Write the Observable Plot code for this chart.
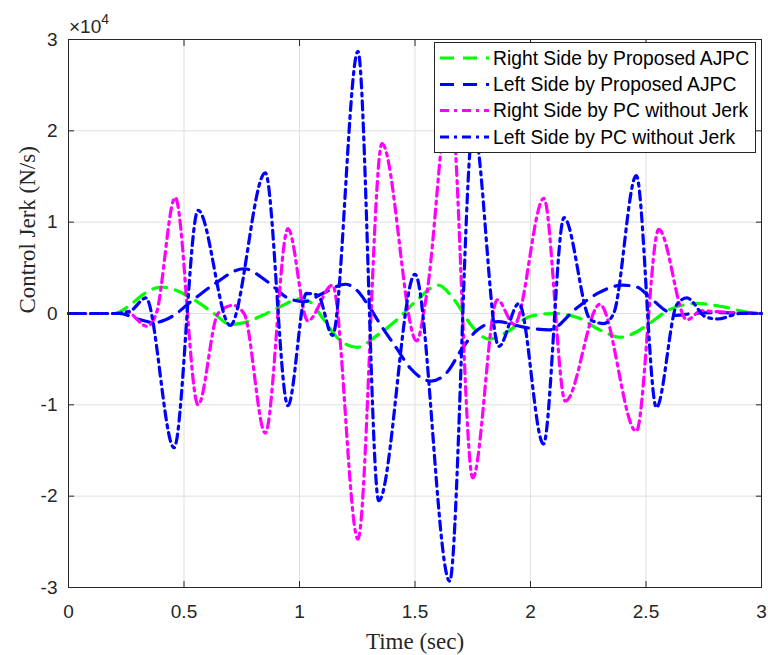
<!DOCTYPE html>
<html><head><meta charset="utf-8">
<script src="https://cdn.jsdelivr.net/npm/d3@7"></script>
<script src="https://cdn.jsdelivr.net/npm/@observablehq/plot@0.6"></script>
<style>body{margin:0;background:#fff} #chart{width:768px;height:655px}</style>
</head><body><div id="chart"></div>
<script>
// Series names (legend order)
const seriesNames = ["Right Side by Proposed AJPC", "Left Side by Proposed AJPC", "Right Side by PC without Jerk", "Left Side by PC without Jerk"];

// Right Side by Proposed AJPC (N/s)
const rightAJPC_t = [0, 0.2, 0.27, 0.33, 0.40, 0.47, 0.55, 0.63, 0.70, 0.76, 0.84, 0.92, 1.0, 1.05, 1.1, 1.17, 1.25, 1.33, 1.43, 1.51, 1.60, 1.67, 1.75, 1.82, 1.9, 2.0, 2.1, 2.2, 2.3, 2.39, 2.46, 2.52, 2.6, 2.72, 2.84, 2.95, 3.0];
const rightAJPC_v = [0, 0, 1000, 2200, 2900, 2500, 1400, 0, -1200, -1000, -200, 800, 1600, 1200, -500, -2800, -3700, -2500, -500, 1500, 3100, 1500, -1500, -2800, -2000, -300, 0, -400, -1800, -2600, -2000, -1000, 400, 1100, 700, 100, 0];

// Left Side by Proposed AJPC (N/s)
const leftAJPC_t = [0, 0.22, 0.3, 0.37, 0.45, 0.53, 0.63, 0.76, 0.86, 0.95, 1.02, 1.1, 1.2, 1.25, 1.3, 1.35, 1.42, 1.48, 1.57, 1.64, 1.7, 1.77, 1.86, 1.97, 2.08, 2.2, 2.29, 2.40, 2.46, 2.52, 2.58, 2.63, 2.7, 2.8, 3.0];
const leftAJPC_v = [0, 0, -600, -1000, -300, 1300, 3200, 4900, 3500, 1700, 1300, 2200, 3200, 2500, 800, -1200, -3800, -6000, -7400, -6400, -4000, -1800, -900, -1500, -1800, 600, 2200, 3100, 2900, 1700, 400, -200, 0, 100, 0];

// Right Side by PC without Jerk (N/s)
const rightPC_t = [0, 0.2, 0.25, 0.34, 0.38, 0.462, 0.561, 0.647, 0.712, 0.76, 0.852, 0.95, 1.036, 1.143, 1.253, 1.357, 1.507, 1.55, 1.652, 1.75, 1.856, 1.93, 2.058, 2.151, 2.30, 2.458, 2.555, 2.677, 2.74, 2.8, 3.0];
const rightPC_v = [0, 0, 200, -1400, 0, 12700, -10000, 0, 900, 0, -13100, 9300, -800, 3100, -24700, 18600, -3000, 2000, 24000, -18000, 1500, -1200, 12600, -9600, 1000, -12900, 9200, -700, 300, 200, 0];

// Left Side by PC without Jerk (N/s)
const leftPC_t = [0, 0.22, 0.27, 0.335, 0.457, 0.561, 0.70, 0.852, 0.95, 1.03, 1.08, 1.143, 1.253, 1.343, 1.5, 1.65, 1.752, 1.863, 1.95, 2.056, 2.145, 2.26, 2.317, 2.36, 2.458, 2.545, 2.634, 2.677, 2.76, 2.81, 2.91, 3.0];
const leftPC_v = [0, 0, 300, 1700, -14700, 11300, -1300, 15400, -10100, 2200, 2000, -2400, 28700, -20500, 4300, -29300, 20500, -3600, 1100, -14300, 10500, -700, -1100, 0, 15100, -10300, 1000, 1700, -400, -600, 0, 0];

// Tick values
const xTicks = [0, 0.5, 1, 1.5, 2, 2.5, 3];
const yTicks = [-30000, -20000, -10000, 0, 10000, 20000, 30000];

const colors = ["#00ff00", "#0000ff", "#ff00ff", "#0000ff"];
const dashes = ["14,9", "14,9", "9,5,3,5", "9,5,3,5"];

const rows = (ts, vs) => ts.map((t, i) => ({t, v: vs[i]}));
const allData = [rows(rightAJPC_t, rightAJPC_v), rows(leftAJPC_t, leftAJPC_v), rows(rightPC_t, rightPC_v), rows(leftPC_t, leftPC_v)];

const textColor = "#262626";
const chart = Plot.plot({
  width: 768, height: 655,
  marginLeft: 68, marginRight: 7, marginTop: 39, marginBottom: 68,
  style: {fontFamily: "Liberation Sans, Arial, sans-serif", fontSize: "19px", color: textColor, background: "#fff"},
  x: {domain: [0, 3]},
  y: {domain: [-30000, 30000]},
  marks: [
    Plot.gridX(xTicks, {stroke: "#dfdfdf", strokeOpacity: 1}),
    Plot.gridY(yTicks, {stroke: "#dfdfdf", strokeOpacity: 1}),
    ...allData.map((d, i) => Plot.line(d, {x: "t", y: "v", stroke: colors[i], strokeWidth: 3.2, strokeDasharray: dashes[i], curve: "monotone-x"})),
    Plot.frame({stroke: textColor, strokeWidth: 1}),
    Plot.axisX(xTicks, {anchor: "bottom", tickSize: 0, tickPadding: 17, tickFormat: d => String(d), label: null}),
    Plot.axisX(xTicks, {anchor: "bottom", tickSize: 6, dy: -6, tickFormat: () => "", label: null}),
    Plot.axisX(xTicks, {anchor: "top", tickSize: 6, dy: 6, tickFormat: () => "", label: null}),
    Plot.axisY(yTicks, {anchor: "left", tickSize: 0, tickPadding: 11, tickFormat: d => String(d / 10000), label: null}),
    Plot.axisY(yTicks, {anchor: "left", tickSize: 6, dx: 6, tickFormat: () => "", label: null}),
    Plot.axisY(yTicks, {anchor: "right", tickSize: 6, dx: -6, tickFormat: () => "", label: null}),
    Plot.text(["Time (sec)"], {text: d => d, frameAnchor: "bottom", dy: 54, fontFamily: "Liberation Serif, Times New Roman, serif", fontSize: 23, fill: textColor, lineAnchor: "middle"}),
    Plot.text(["Control Jerk (N/s)"], {text: d => d, frameAnchor: "left", dx: -41, rotate: -90, fontFamily: "Liberation Serif, Times New Roman, serif", fontSize: 23, fill: textColor, lineAnchor: "middle"})
  ]
});
document.getElementById("chart").appendChild(chart);

const svg = d3.select(chart);
// exponent label
const ex = svg.append("text").attr("x", 69).attr("y", 33).attr("text-anchor", "start").attr("font-size", 19).attr("fill", textColor).attr("font-family", "Liberation Sans, Arial, sans-serif");
ex.append("tspan").text("\u00d710");
ex.append("tspan").attr("dy", -9).attr("font-size", 14).text("4");

// legend
const lg = svg.append("g");
lg.append("rect").attr("x", 434.5).attr("y", 42.5).attr("width", 321).attr("height", 110).attr("fill", "#fff").attr("stroke", textColor).attr("stroke-width", 1);
const rowY = [58, 84.5, 110.5, 137];
seriesNames.forEach((name, i) => {
  lg.append("line").attr("x1", 440).attr("x2", 489).attr("y1", rowY[i]).attr("y2", rowY[i])
    .attr("stroke", colors[i]).attr("stroke-width", 3.2).attr("stroke-dasharray", dashes[i]);
  lg.append("text").attr("x", 493).attr("y", rowY[i]).attr("dy", "0.35em").attr("text-anchor", "start").attr("font-size", 19.3).attr("fill", "#000")
    .attr("font-family", "Liberation Sans, Arial, sans-serif").text(name);
});
</script>
</body></html>
